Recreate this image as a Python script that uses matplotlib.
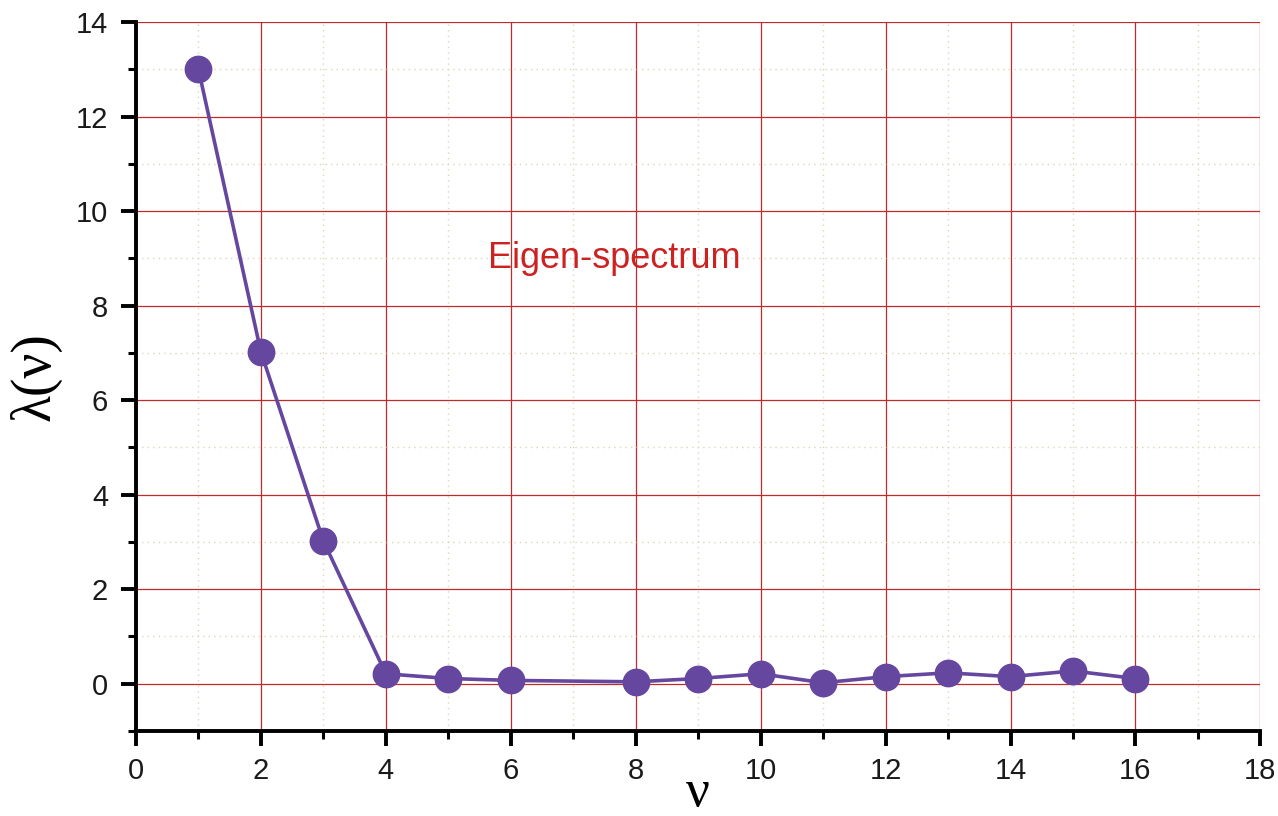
import matplotlib
matplotlib.use("Agg")
import matplotlib.pyplot as plt
from matplotlib.ticker import MultipleLocator

# eigen-spectrum values (nu = 7 is absent)
nu = [1, 2, 3, 4, 5, 6, 8, 9, 10, 11, 12, 13, 14, 15, 16]
lam = [13.0, 7.02, 3.02, 0.21, 0.11, 0.07, 0.04, 0.11, 0.21, 0.02, 0.15, 0.23, 0.15, 0.27, 0.11]

purple = "#6647a0"
grid_red = "#c02a2a"

plt.rcParams["font.family"] = ["Liberation Sans", "DejaVu Sans"]

fig = plt.figure(figsize=(12.78, 8.16), dpi=100)
ax = fig.add_axes([0.1064, 0.1042, 0.8798, 0.8688])

ax.set_xlim(0, 18)
ax.set_ylim(-1, 14)

ax.xaxis.set_major_locator(MultipleLocator(2))
ax.xaxis.set_minor_locator(MultipleLocator(1))
ax.yaxis.set_major_locator(MultipleLocator(2))
ax.yaxis.set_minor_locator(MultipleLocator(1))

ax.grid(True, which="major", color=grid_red, linewidth=0.9, linestyle="-")
ax.grid(True, which="minor", color="#ddd6b8", linewidth=1.0, linestyle=(0, (1, 3)))
ax.set_axisbelow(True)

ax.plot(nu, lam, color=purple, linewidth=2.6, marker="o", markersize=19,
        markerfacecolor=purple, markeredgecolor=purple, zorder=3)

ax.text(5.64, 9.0, "Eigen-spectrum", color="#cc2222", fontsize=26,
        ha="left", va="center")

for s in ("top", "right"):
    ax.spines[s].set_visible(False)
for s in ("left", "bottom"):
    ax.spines[s].set_linewidth(2.8)
    ax.spines[s].set_color("black")

ax.tick_params(which="major", direction="out", length=11, width=2.8,
               labelsize=21, labelcolor="#1a1a1a")
ax.tick_params(which="minor", direction="out", length=6, width=2.2)
ax.tick_params(axis="y", which="major", pad=9)
ax.tick_params(axis="x", which="major", pad=8)

ax.set_xlabel("ν", family="Liberation Serif", fontsize=38, labelpad=-12)
ax.set_ylabel("λ(ν)", family="Liberation Serif", fontsize=40, labelpad=10)

fig.savefig("out.png", dpi=100)
